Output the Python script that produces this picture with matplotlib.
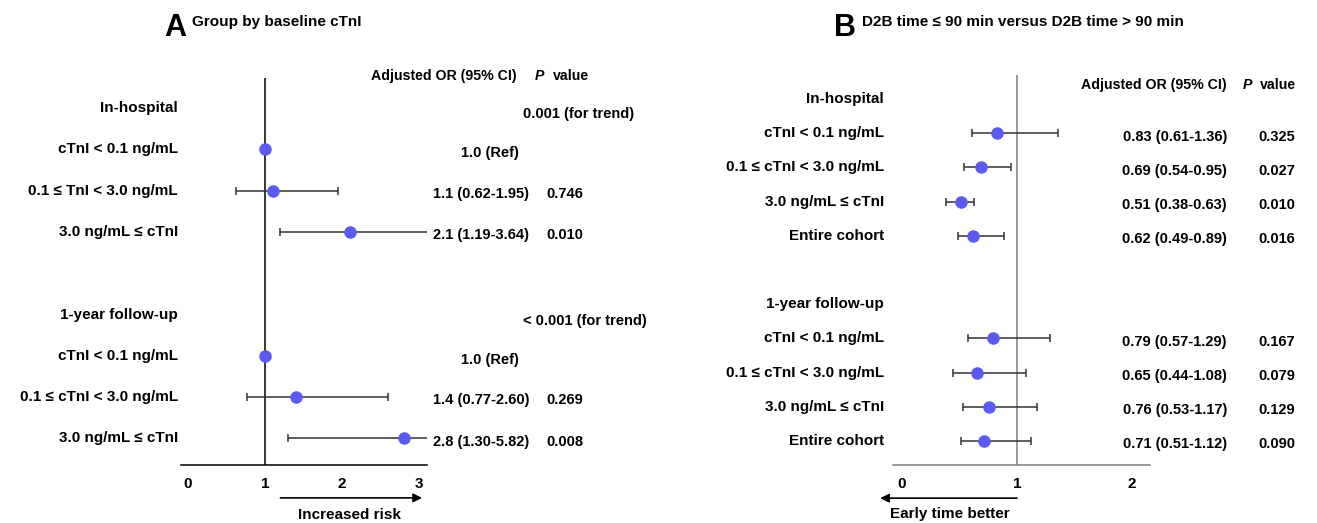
import numpy as np
import matplotlib
matplotlib.use('Agg')
import matplotlib.pyplot as plt
from matplotlib.transforms import blended_transform_factory

plt.rcParams['font.family'] = ['Liberation Sans Narrow', 'Liberation Sans', 'DejaVu Sans']
plt.rcParams['font.weight'] = 'bold'
plt.rcParams['font.size'] = 10.5

# Panel A: group by baseline cTnI
groups_a = ['In-hospital', '1-year follow-up']
trend_a = ['0.001 (for trend)', '< 0.001 (for trend)']
labels_a = ['cTnI < 0.1 ng/mL', '0.1 \u2264 TnI < 3.0 ng/mL', '3.0 ng/mL \u2264 cTnI',
            'cTnI < 0.1 ng/mL', '0.1 \u2264 cTnI < 3.0 ng/mL', '3.0 ng/mL \u2264 cTnI']
or_a = [1.0, 1.1, 2.1, 1.0, 1.4, 2.8]
lo_a = [np.nan, 0.62, 1.19, np.nan, 0.77, 1.30]
hi_a = [np.nan, 1.95, 3.64, np.nan, 2.60, 5.82]
p_a = ['', '0.746', '0.010', '', '0.269', '0.008']

# Panel B: D2B time <= 90 min vs > 90 min
groups_b = ['In-hospital', '1-year follow-up']
labels_b = ['cTnI < 0.1 ng/mL', '0.1 \u2264 cTnI < 3.0 ng/mL', '3.0 ng/mL \u2264 cTnI', 'Entire cohort'] * 2
or_b = [0.83, 0.69, 0.51, 0.62, 0.79, 0.65, 0.76, 0.71]
lo_b = [0.61, 0.54, 0.38, 0.49, 0.57, 0.44, 0.53, 0.51]
hi_b = [1.36, 0.95, 0.63, 0.89, 1.29, 1.08, 1.17, 1.12]
p_b = ['0.325', '0.027', '0.010', '0.016', '0.167', '0.079', '0.129', '0.090']

W, H = 1317, 523
fig = plt.figure(figsize=(W / 100, H / 100), dpi=100)
fig.patch.set_facecolor('white')

DOT = '#5b5bf2'
LAB = 11      # row labels
HEAD = 10.2   # column headers


def fx(x):
    return x / W


def fy(y):
    return 1 - y / H


def make_axes(left, right, top, bottom, x0_px, unit_px, row0_px, step_px):
    ax = fig.add_axes([fx(left), fy(bottom), (right - left) / W, (bottom - top) / H])
    ax.set_xlim((left - x0_px) / unit_px, (right - x0_px) / unit_px)
    ax.set_ylim((bottom - row0_px) / step_px, (top - row0_px) / step_px)
    ax.set_yticks([])
    for s in ['top', 'right', 'left']:
        ax.spines[s].set_visible(False)
    ax.patch.set_alpha(0)
    return ax


def forest(ax, rows, est, lo, hi):
    est = np.asarray(est)
    err = np.vstack([est - np.asarray(lo), np.asarray(hi) - est])
    ax.errorbar(est, rows, xerr=err, fmt='none', ecolor='#333333', elinewidth=1.1,
                capsize=3, capthick=1.1, zorder=2)
    ax.plot(est, rows, 'o', color=DOT, ms=8, mec=DOT, zorder=3)


# ---------- Panel A ----------
axA = make_axes(181, 427, 78, 465, 188, 77, 108, 41.3)
rows_a = [1, 2, 3, 6, 7, 8]
axA.axvline(1, color='black', lw=1.1, zorder=1)
forest(axA, rows_a, or_a, lo_a, hi_a)
axA.spines['bottom'].set_color('black')
axA.spines['bottom'].set_linewidth(1.1)
axA.set_xticks([0, 1, 2, 3])
axA.tick_params(axis='x', length=0, pad=9, labelsize=11)

trA = blended_transform_factory(fig.transFigure, axA.transData)
for g, r, t in zip(groups_a, [0, 5], trend_a):
    axA.text(fx(178), r, g, transform=trA, ha='right', va='center', fontsize=LAB)
    axA.text(fx(523), r + 0.15, t, transform=trA, ha='left', va='center')
for r, lab, o, l, h, p in zip(rows_a, labels_a, or_a, lo_a, hi_a, p_a):
    axA.text(fx(178), r, lab, transform=trA, ha='right', va='center', fontsize=LAB)
    if np.isnan(l):
        axA.text(fx(490), r + 0.1, '%.1f (Ref)' % o, transform=trA, ha='center', va='center')
    else:
        axA.text(fx(481), r + 0.08, '%.1f (%.2f-%.2f)' % (o, l, h), transform=trA,
                 ha='center', va='center')
    if p:
        axA.text(fx(565), r + 0.08, p, transform=trA, ha='center', va='center')

fig.text(fx(517), fy(76), 'Adjusted OR (95% CI)', ha='right', va='center', fontsize=HEAD)
fig.text(fx(535), fy(76), 'P', ha='left', va='center', style='italic', fontsize=HEAD)
fig.text(fx(553), fy(76), 'value', ha='left', va='center', fontsize=HEAD)

axA.annotate('', xy=(3.04, -0.085), xytext=(1.2, -0.085),
             xycoords=axA.get_xaxis_transform(), annotation_clip=False,
             arrowprops=dict(arrowstyle='-|>', color='black', lw=1.2,
                             mutation_scale=13, shrinkA=0, shrinkB=0))
axA.text(2.1, -0.128, 'Increased risk', transform=axA.get_xaxis_transform(),
         ha='center', va='center', fontsize=LAB)

fig.text(fx(164), fy(13), 'A', fontsize=22, va='top', ha='left',
         family=['Liberation Sans', 'DejaVu Sans'])
fig.text(fx(192), fy(15), 'Group by baseline cTnI', fontsize=11, va='top', ha='left')

# ---------- Panel B ----------
axB = make_axes(893, 1150, 75, 465, 902, 115, 99, 34.2)
rows_b = [1, 2, 3, 4, 7, 8, 9, 10]
axB.axvline(1, color='#7f7f7f', lw=1.1, zorder=1)
forest(axB, rows_b, or_b, lo_b, hi_b)
axB.spines['bottom'].set_color('#7f7f7f')
axB.spines['bottom'].set_linewidth(1.1)
axB.set_xticks([0, 1, 2])
axB.tick_params(axis='x', length=0, pad=9, labelsize=11)

trB = blended_transform_factory(fig.transFigure, axB.transData)
for g, r in zip(groups_b, [0, 6]):
    axB.text(fx(884), r, g, transform=trB, ha='right', va='center', fontsize=LAB)
for r, lab, o, l, h, p in zip(rows_b, labels_b, or_b, lo_b, hi_b, p_b):
    axB.text(fx(884), r, lab, transform=trB, ha='right', va='center', fontsize=LAB)
    axB.text(fx(1227), r + 0.1, '%.2f (%.2f-%.2f)' % (o, l, h), transform=trB,
             ha='right', va='center')
    axB.text(fx(1277), r + 0.1, p, transform=trB, ha='center', va='center')

fig.text(fx(1227), fy(85), 'Adjusted OR (95% CI)', ha='right', va='center', fontsize=HEAD)
fig.text(fx(1243), fy(85), 'P', ha='left', va='center', style='italic', fontsize=HEAD)
fig.text(fx(1260), fy(85), 'value', ha='left', va='center', fontsize=HEAD)

axB.annotate('', xy=(-0.19, -0.085), xytext=(1.0, -0.085),
             xycoords=axB.get_xaxis_transform(), annotation_clip=False,
             arrowprops=dict(arrowstyle='-|>', color='black', lw=1.2,
                             mutation_scale=13, shrinkA=0, shrinkB=0))
axB.text(0.42, -0.126, 'Early time better', transform=axB.get_xaxis_transform(),
         ha='center', va='center', fontsize=LAB)

fig.text(fx(834), fy(13), 'B', fontsize=22, va='top', ha='left',
         family=['Liberation Sans', 'DejaVu Sans'])
fig.text(fx(862), fy(15), 'D2B time \u2264 90 min versus D2B time > 90 min',
         fontsize=11, va='top', ha='left')

fig.savefig('out.png', dpi=100, facecolor='white')
